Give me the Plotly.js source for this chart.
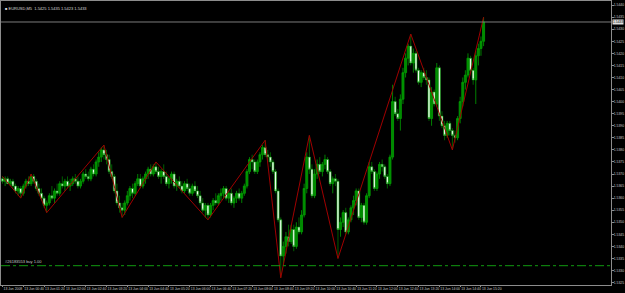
<!DOCTYPE html>
<html>
<head>
<meta charset="utf-8">
<script src="https://cdn.plot.ly/plotly-3.0.1.min.js"></script>
<style>html,body{margin:0;padding:0;background:#000;}#chart{width:625px;height:293px;}</style>
</head>
<body>
<div id="chart"></div>
<script>
// EURUSD M5 candles
const open = [1.5368,1.5367,1.5368,1.5366,1.5367,1.5365,1.5363,1.5364,1.5362,1.5365,1.5367,1.5366,1.5369,1.5367,1.5364,1.5362,1.5360,1.5357,
1.5358,1.5361,1.5360,1.5363,1.5362,1.5366,1.5365,1.5367,1.5365,1.5366,1.5368,1.5367,1.5365,1.5367,1.5370,1.5369,1.5368,1.5372,1.5370,1.5375,1.5377,1.5380,
1.5378,1.5376,1.5371,1.5369,1.5363,1.5358,1.5356,
1.5355,1.5358,1.5361,1.5364,1.5362,1.5366,1.5368,1.5365,1.5368,1.5370,1.5372,1.5370,1.5373,
1.5371,1.5369,1.5371,1.5369,1.5366,1.5368,1.5370,1.5365,1.5367,1.5365,1.5363,1.5366,1.5364,1.5362,1.5365,1.5363,1.5361,1.5358,1.5355,1.5357,
1.5353,1.5357,1.5359,1.5358,1.5361,1.5362,1.5364,1.5360,1.5362,1.5358,1.5360,1.5362,1.5360,1.5362,1.5365,1.5371,1.5376,1.5375,1.5371,1.5375,1.5378,1.5381,
1.5378,1.5377,1.5375,1.5371,1.5363,1.5351,
1.5336,1.5340,1.5344,1.5342,1.5347,1.5340,1.5348,1.5346,1.5353,1.5364,1.5377,
1.5372,1.5361,1.5370,1.5374,1.5371,1.5374,1.5376,1.5371,1.5366,1.5368,1.5367,
1.5347,1.5350,1.5354,1.5346,1.5351,1.5356,1.5359,1.5363,1.5352,1.5357,1.5350,1.5361,1.5373,1.5371,1.5364,1.5370,1.5374,1.5373,1.5369,1.5366,1.5377,1.5400,1.5395,1.5393,1.5401,1.5412,1.5418,1.5423,
1.5416,1.5420,1.5413,1.5408,1.5412,1.5410,1.5409,1.5393,1.5404,1.5399,1.5414,1.5394,1.5390,1.5386,1.5391,1.5388,
1.5386,1.5385,1.5393,1.5400,1.5408,1.5411,1.5418,1.5413,1.5409,1.5419,1.5422,1.5425];
const high = [1.5369,1.5369,1.5369,1.5368,1.5368,1.5366,1.5365,1.5365,1.5366,1.5368,1.5369,1.5370,1.5370,1.5368,1.5366,1.5364,1.5361,1.5359,
1.5362,1.5365,1.5364,1.5366,1.5367,1.5369,1.5368,1.5369,1.5368,1.5369,1.5370,1.5369,1.5368,1.5371,1.5372,1.5371,1.5373,1.5374,1.5376,1.5379,1.5381,1.5382,
1.5380,1.5378,1.5374,1.5370,1.5366,1.5361,1.5358,
1.5359,1.5363,1.5365,1.5366,1.5367,1.5370,1.5370,1.5369,1.5371,1.5373,1.5374,1.5374,1.5375,
1.5373,1.5372,1.5374,1.5371,1.5369,1.5371,1.5371,1.5368,1.5369,1.5367,1.5367,1.5368,1.5366,1.5366,1.5367,1.5365,1.5363,1.5360,1.5358,1.5358,
1.5358,1.5360,1.5362,1.5362,1.5364,1.5365,1.5365,1.5363,1.5364,1.5361,1.5363,1.5364,1.5363,1.5366,1.5372,1.5377,1.5378,1.5376,1.5376,1.5379,1.5382,1.5384,
1.5380,1.5379,1.5376,1.5372,1.5364,1.5352,
1.5342,1.5346,1.5349,1.5349,1.5349,1.5350,1.5352,1.5355,1.5366,1.5379,1.5386,
1.5374,1.5372,1.5376,1.5377,1.5375,1.5378,1.5377,1.5372,1.5369,1.5370,1.5368,
1.5352,1.5355,1.5356,1.5352,1.5357,1.5361,1.5364,1.5364,1.5358,1.5358,1.5362,1.5375,1.5375,1.5372,1.5371,1.5375,1.5376,1.5374,1.5370,1.5378,1.5407,1.5402,1.5397,1.5403,1.5414,1.5420,1.5424,1.5428,
1.5422,1.5421,1.5414,1.5413,1.5414,1.5413,1.5410,1.5406,1.5405,1.5416,1.5415,1.5396,1.5392,1.5392,1.5392,1.5389,
1.5388,1.5394,1.5402,1.5410,1.5413,1.5420,1.5419,1.5414,1.5421,1.5424,1.5427,1.5435];
const low = [1.5366,1.5365,1.5366,1.5365,1.5364,1.5362,1.5361,1.5360,1.5361,1.5364,1.5365,1.5365,1.5366,1.5363,1.5361,1.5359,1.5356,1.5354,
1.5357,1.5359,1.5358,1.5361,1.5361,1.5364,1.5363,1.5364,1.5363,1.5365,1.5366,1.5364,1.5364,1.5366,1.5368,1.5367,1.5367,1.5369,1.5369,1.5373,1.5375,1.5376,
1.5374,1.5370,1.5368,1.5362,1.5357,1.5354,1.5352,
1.5353,1.5357,1.5359,1.5360,1.5361,1.5365,1.5364,1.5364,1.5366,1.5368,1.5369,1.5369,1.5370,
1.5368,1.5366,1.5368,1.5365,1.5364,1.5366,1.5364,1.5363,1.5364,1.5362,1.5362,1.5363,1.5361,1.5361,1.5362,1.5360,1.5357,1.5354,1.5352,1.5351,
1.5352,1.5355,1.5357,1.5357,1.5359,1.5360,1.5359,1.5358,1.5357,1.5356,1.5358,1.5359,1.5358,1.5361,1.5364,1.5370,1.5372,1.5370,1.5370,1.5373,1.5376,1.5377,
1.5375,1.5373,1.5370,1.5362,1.5350,1.5327,
1.5332,1.5337,1.5340,1.5341,1.5338,1.5339,1.5345,1.5345,1.5352,1.5362,1.5370,
1.5360,1.5360,1.5368,1.5370,1.5369,1.5372,1.5370,1.5365,1.5362,1.5365,1.5335,
1.5344,1.5348,1.5345,1.5345,1.5350,1.5353,1.5357,1.5351,1.5350,1.5349,1.5349,1.5360,1.5370,1.5363,1.5363,1.5368,1.5371,1.5368,1.5364,1.5365,1.5376,1.5394,1.5392,1.5388,1.5399,1.5410,1.5415,1.5415,
1.5412,1.5412,1.5407,1.5406,1.5409,1.5407,1.5392,1.5390,1.5398,1.5398,1.5392,1.5389,1.5384,1.5385,1.5386,1.5380,
1.5383,1.5384,1.5391,1.5398,1.5405,1.5410,1.5412,1.5407,1.5399,1.5415,1.5419,1.5423];
const close = [1.5367,1.5368,1.5366,1.5367,1.5365,1.5363,1.5364,1.5362,1.5365,1.5367,1.5366,1.5369,1.5367,1.5364,1.5362,1.5360,1.5357,1.5358,
1.5361,1.5360,1.5363,1.5362,1.5366,1.5365,1.5367,1.5365,1.5366,1.5368,1.5367,1.5365,1.5367,1.5370,1.5369,1.5368,1.5372,1.5370,1.5375,1.5377,1.5380,1.5378,
1.5376,1.5371,1.5369,1.5363,1.5358,1.5356,1.5355,
1.5358,1.5361,1.5364,1.5362,1.5366,1.5368,1.5365,1.5368,1.5370,1.5372,1.5370,1.5373,1.5371,
1.5369,1.5371,1.5369,1.5366,1.5368,1.5370,1.5365,1.5367,1.5365,1.5363,1.5366,1.5364,1.5362,1.5365,1.5363,1.5361,1.5358,1.5355,1.5357,1.5353,
1.5357,1.5359,1.5358,1.5361,1.5362,1.5364,1.5360,1.5362,1.5358,1.5360,1.5362,1.5360,1.5362,1.5365,1.5371,1.5376,1.5375,1.5371,1.5375,1.5378,1.5381,1.5378,
1.5377,1.5375,1.5371,1.5363,1.5351,1.5336,
1.5340,1.5344,1.5342,1.5347,1.5340,1.5348,1.5346,1.5353,1.5364,1.5377,1.5372,
1.5361,1.5370,1.5374,1.5371,1.5374,1.5376,1.5371,1.5366,1.5368,1.5367,1.5347,
1.5350,1.5354,1.5346,1.5351,1.5356,1.5359,1.5363,1.5352,1.5357,1.5350,1.5361,1.5373,1.5371,1.5364,1.5370,1.5374,1.5373,1.5369,1.5366,1.5377,1.5400,1.5395,1.5393,1.5401,1.5412,1.5418,1.5423,1.5416,
1.5420,1.5413,1.5408,1.5412,1.5410,1.5409,1.5393,1.5404,1.5399,1.5414,1.5394,1.5390,1.5386,1.5391,1.5388,1.5386,
1.5385,1.5393,1.5400,1.5408,1.5411,1.5418,1.5413,1.5409,1.5419,1.5422,1.5425,1.5433];

// ZigZag swing points: bar index and price
const zzBar = [0, 7, 11, 17, 39, 46, 59, 79, 101, 107, 118, 129, 157, 173, 185];
const zzPrice = [1.5369,1.5360,1.5370,1.5354,1.5382,1.5352,1.5375,1.5351,1.5384,1.5327,1.5386,1.5335,1.5428,1.5380,1.5435];

// time axis labels, one every 8 bars
const timeLabels = ["13 Jun 2008","13 Jun 00:40","13 Jun 01:20","13 Jun 02:00","13 Jun 02:40","13 Jun 03:20",
"13 Jun 04:00","13 Jun 04:40","13 Jun 05:20","13 Jun 06:00","13 Jun 06:40","13 Jun 07:20","13 Jun 08:00",
"13 Jun 08:40","13 Jun 09:20","13 Jun 10:00","13 Jun 10:40","13 Jun 11:20","13 Jun 12:00","13 Jun 12:40",
"13 Jun 13:20","13 Jun 14:00","13 Jun 14:40","13 Jun 15:20"];
const labelStep = 8;

// price axis labels
const priceTicks = [1.5440,1.5435,1.5430,1.5425,1.5420,1.5415,1.5410,1.5405,1.5400,1.5395,1.5390,1.5385,
1.5380,1.5375,1.5370,1.5365,1.5360,1.5355,1.5350,1.5345,1.5340,1.5335,1.5330,1.5325];

const symbol = "EURUSD,M5";
const orderLabel = "#26183553 buy 1.00";
const orderPrice = 1.5332;

const N = open.length;
const bars = open.map((_, i) => i);
const bid = close[N - 1];

const candle = {
  type: 'candlestick', x: bars, open: open, high: high, low: low, close: close,
  increasing: {line: {color: '#00a000', width: 0.8}, fillcolor: '#008a00'},
  decreasing: {line: {color: '#00a000', width: 0.6}, fillcolor: '#f4fff4'},
  whiskerwidth: 0, hoverinfo: 'skip', showlegend: false
};
const zz = {
  type: 'scatter', mode: 'lines', x: zzBar, y: zzPrice,
  line: {color: '#a00000', width: 1}, hoverinfo: 'skip', showlegend: false
};

const fmt = v => v.toFixed(4);
const axisFont = {family: 'Liberation Sans, Arial, sans-serif', size: 3.4, color: '#c8c8c8'};

const layout = {
  width: 625, height: 293,
  margin: {l: 1, r: 14, t: 1, b: 8, pad: 0},
  paper_bgcolor: '#000', plot_bgcolor: '#000',
  showlegend: false, hovermode: false,
  boxgap: 0.12, boxgroupgap: 0.12,
  xaxis: {
    range: [-0.58, 234.0], rangeslider: {visible: false},
    tickvals: timeLabels.map((_, j) => j * labelStep), ticktext: timeLabels,
    tickangle: 0, ticklabelposition: 'outside right', ticklabeloverflow: 'allow',
    ticks: 'outside', ticklen: 1, tickcolor: '#8c8c8c', tickfont: axisFont,
    showgrid: false, zeroline: false, showline: true, linecolor: '#8c8c8c', linewidth: 1, mirror: true,
    fixedrange: true
  },
  yaxis: {
    range: [1.5324, 1.54417], side: 'right', ticklabelstandoff: -1,
    tickvals: priceTicks, ticktext: priceTicks.map(fmt),
    ticks: 'outside', ticklen: 2, tickcolor: '#8c8c8c', tickfont: axisFont,
    showgrid: false, zeroline: false, showline: true, linecolor: '#8c8c8c', linewidth: 1, mirror: true,
    fixedrange: true
  },
  shapes: [
    {type: 'line', xref: 'paper', x0: 0, x1: 1, yref: 'y', y0: bid, y1: bid,
     line: {color: '#7c7c7c', width: 1}},
    {type: 'line', xref: 'paper', x0: 0, x1: 1, yref: 'y', y0: orderPrice, y1: orderPrice,
     line: {color: '#109a10', width: 1, dash: 'dashdot'}}
  ],
  annotations: [
    {xref: 'paper', yref: 'paper', x: 0.003, y: 0.988, xanchor: 'left', yanchor: 'top',
     text: '■ ' + symbol + '  ' + fmt(open[N-1]) + ' ' + fmt(high[N-1]) + ' ' + fmt(low[N-1]) + ' ' + fmt(close[N-1]),
     showarrow: false, font: {family: 'Liberation Sans, Arial, sans-serif', size: 4, color: '#d8d8d8'}},
    {xref: 'paper', yref: 'y', x: 0.004, y: orderPrice, xanchor: 'left', yanchor: 'bottom',
     text: orderLabel, showarrow: false,
     font: {family: 'Liberation Sans, Arial, sans-serif', size: 4, color: '#c8c8c8'}},
    {xref: 'paper', yref: 'y', x: 1, y: bid, xanchor: 'left', yanchor: 'middle', xshift: 1,
     text: fmt(bid), showarrow: false, bgcolor: '#e0e0e0', borderpad: 0,
     font: {family: 'Liberation Sans, Arial, sans-serif', size: 3.4, color: '#000000'}}
  ]
};

Plotly.newPlot('chart', [candle, zz], layout, {displayModeBar: false, staticPlot: true});
</script>
</body>
</html>
